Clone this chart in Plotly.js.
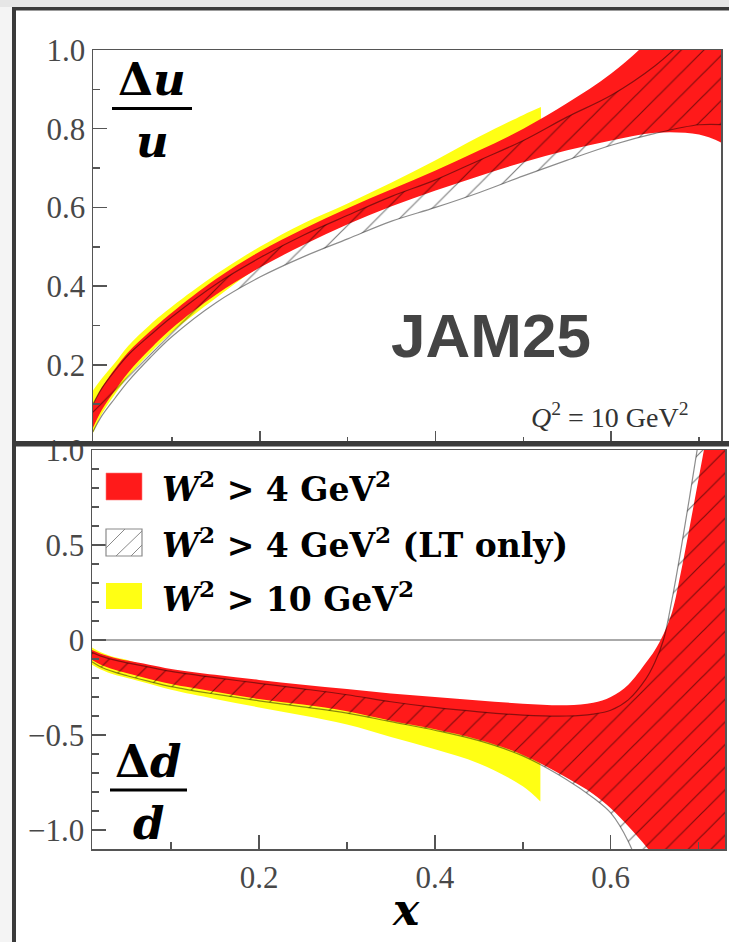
<!DOCTYPE html>
<html><head><meta charset="utf-8">
<script src="https://cdn.plot.ly/plotly-3.0.1.min.js"></script>
<style>html,body{margin:0;padding:0;background:#fff;}#chart{width:729px;height:942px;}</style>
</head><body><div id="chart"></div>
<script>
// ---------------- DATA ----------------
// Upper panel: Delta u / u
const xU = [0.01,0.02,0.035,0.05,0.075,0.1,0.15,0.2,0.25,0.3,0.35,0.4,0.45,0.5,0.55,0.6,0.65,0.7,0.73];
const uRedLo   = [0.04,0.085,0.135,0.18,0.24,0.293,0.378,0.447,0.505,0.557,0.603,0.643,0.68,0.715,0.745,0.77,0.79,0.785,0.76];
const uRedHi   = [0.10,0.142,0.19,0.232,0.285,0.333,0.418,0.488,0.546,0.598,0.646,0.694,0.745,0.80,0.865,0.94,1.04,1.17,1.27];
const uHatchLo = [0.03,0.07,0.115,0.158,0.218,0.272,0.358,0.423,0.475,0.52,0.565,0.60,0.638,0.68,0.72,0.758,0.788,0.81,0.81];
const uHatchHi = [0.10,0.14,0.185,0.225,0.275,0.322,0.405,0.472,0.53,0.58,0.628,0.67,0.72,0.77,0.83,0.885,0.96,1.06,1.12];
const xY = [0.01,0.02,0.035,0.05,0.075,0.1,0.15,0.2,0.25,0.3,0.35,0.4,0.45,0.5,0.52];
const uYelLo = [0.027,0.075,0.125,0.17,0.23,0.283,0.37,0.45,0.51,0.565,0.615,0.66,0.70,0.745,0.76];
const uYelHi = [0.135,0.165,0.205,0.248,0.302,0.348,0.43,0.50,0.56,0.61,0.663,0.72,0.78,0.835,0.855];

// Lower panel: Delta d / d
const xD = [0.01,0.02,0.035,0.05,0.075,0.1,0.15,0.2,0.25,0.3,0.35,0.4,0.45,0.5,0.55,0.58,0.6,0.62,0.64,0.65,0.66,0.67,0.68,0.69,0.70,0.71,0.73];
const dRedLo   = [-0.105,-0.13,-0.155,-0.175,-0.205,-0.232,-0.272,-0.31,-0.34,-0.375,-0.425,-0.47,-0.525,-0.605,-0.725,-0.81,-0.885,-0.98,-1.085,-1.145,-1.21,-1.28,-1.36,-1.44,-1.53,-1.62,-1.8];
const dRedHi   = [-0.053,-0.072,-0.093,-0.108,-0.13,-0.152,-0.183,-0.21,-0.235,-0.258,-0.282,-0.30,-0.318,-0.335,-0.343,-0.33,-0.30,-0.235,-0.12,-0.055,0.03,0.15,0.36,0.6,0.85,1.1,1.6];
const dHatchLo = [-0.115,-0.142,-0.168,-0.188,-0.218,-0.245,-0.285,-0.32,-0.352,-0.385,-0.43,-0.475,-0.53,-0.61,-0.735,-0.83,-0.91,-1.06,-1.3,-1.45,-1.6,-1.75,-1.9,-2.0,-2.1,-2.2,-2.4];
const dHatchHi = [-0.065,-0.085,-0.105,-0.12,-0.143,-0.165,-0.198,-0.228,-0.257,-0.288,-0.325,-0.355,-0.378,-0.395,-0.40,-0.39,-0.37,-0.315,-0.205,-0.12,0.0,0.22,0.48,0.76,1.05,1.35,1.95];
const dYelLo = [-0.13,-0.155,-0.182,-0.20,-0.23,-0.262,-0.31,-0.355,-0.398,-0.445,-0.51,-0.575,-0.65,-0.77,-0.85];
const dYelHi = [-0.04,-0.065,-0.09,-0.105,-0.14,-0.165,-0.2,-0.225,-0.255,-0.28,-0.31,-0.335,-0.36,-0.39,-0.40];

// Ticks and labels
const xMajor = [0.2,0.4,0.6];
const xMajorText = ['0.2','0.4','0.6'];
const xMinor = [0.1,0.3,0.5,0.7];
const uTickVals = [0.2,0.4,0.6,0.8,1.0];
const uTickText = ['0.2','0.4','0.6','0.8','1.0'];
const uMinor = [0.1,0.3,0.5,0.7,0.9];
const dTickVals = [-1.0,-0.5,0,0.5,1.0];
const dTickText = ['\u22121.0','\u22120.5','0','0.5','1.0'];
const dMinor = [-0.9,-0.8,-0.7,-0.6,-0.4,-0.3,-0.2,-0.1,0.1,0.2,0.3,0.4,0.6,0.7,0.8,0.9];
const legendLabels = [
  '<b><i>W</i><sup>2</sup> > 4 GeV<sup>2</sup></b>',
  '<b><i>W</i><sup>2</sup> > 4 GeV<sup>2</sup> (LT only)</b>',
  '<b><i>W</i><sup>2</sup> > 10 GeV<sup>2</sup></b>'
];

// ---------------- STYLE ----------------
const W = 729, H = 942;
const px = v => v / W;
const py = v => 1 - v / H;
const RED = 'rgb(255,26,26)';
const YEL = 'rgb(255,255,20)';

function band(xs, lo, hi, xa, ya, kind) {
  const hatch = kind === 'hatch';
  const col = kind === 'red' ? RED : (kind === 'yel' ? YEL : 'rgba(0,0,0,0.45)');
  const line = {shape: 'spline', smoothing: 1, width: hatch ? 1.2 : 0, color: col};
  const base = {xaxis: xa, yaxis: ya, type: 'scatter', mode: 'lines', hoverinfo: 'skip', showlegend: false};
  const tLo = Object.assign({}, base, {x: xs, y: lo, line: line, fill: 'none'});
  const tHi = Object.assign({}, base, {x: xs, y: hi, line: line, fill: 'tonexty'});
  if (hatch) {
    tHi.fillcolor = 'rgba(0,0,0,0)';
    tHi.fillpattern = {shape: '/', fgcolor: '#000', fgopacity: 0.5, bgcolor: 'rgba(0,0,0,0)', size: 16, solidity: 0.075};
  } else {
    tHi.fillcolor = col;
  }
  return [tLo, tHi];
}

const data = [].concat(
  band(xY, uYelLo, uYelHi, 'x', 'y', 'yel'),
  band(xU, uRedLo, uRedHi, 'x', 'y', 'red'),
  band(xU, uHatchLo, uHatchHi, 'x', 'y', 'hatch'),
  band(xY, dYelLo, dYelHi, 'x2', 'y2', 'yel'),
  band(xD, dRedLo, dRedHi, 'x2', 'y2', 'red'),
  band(xD, dHatchLo, dHatchHi, 'x2', 'y2', 'hatch')
);

const tickFont = {family: 'Liberation Serif, serif', size: 31, color: '#484848'};
const axCommon = {
  ticks: 'inside', tickwidth: 1.5, tickcolor: '#555',
  showline: true, mirror: true, linecolor: '#555', linewidth: 1.5,
  showgrid: false, zeroline: false, layer: 'above traces', tickfont: tickFont,
  fixedrange: true
};
function minor(vals) { return {tickvals: vals, ticks: 'inside', ticklen: 7, tickwidth: 1.5, tickcolor: '#555', showgrid: false}; }

const layout = {
  width: W, height: H, margin: {l: 0, r: 0, t: 0, b: 0},
  paper_bgcolor: '#fff', plot_bgcolor: '#fff', showlegend: false,
  xaxis: Object.assign({}, axCommon, {domain: [px(93), px(721)], range: [0.01, 0.725], anchor: 'y',
    tickmode: 'array', tickvals: xMajor, showticklabels: false, ticklen: 13, minor: minor(xMinor)}),
  yaxis: Object.assign({}, axCommon, {domain: [py(443.5), py(50)], range: [0, 1], anchor: 'x',
    tickmode: 'array', tickvals: uTickVals, ticktext: uTickText, ticklen: 14, minor: minor(uMinor)}),
  xaxis2: Object.assign({}, axCommon, {domain: [px(92), px(725)], range: [0.01, 0.73], anchor: 'y2',
    tickmode: 'array', tickvals: xMajor, ticktext: xMajorText, ticklen: 14, minor: minor(xMinor)}),
  yaxis2: Object.assign({}, axCommon, {domain: [py(849), py(450)], range: [-1.1, 1.0], anchor: 'x2',
    tickmode: 'array', tickvals: dTickVals, ticktext: dTickText, ticklen: 14, minor: minor(dMinor),
    zeroline: true, zerolinecolor: '#aaa', zerolinewidth: 1.2}),
  shapes: [
    // screenshot frame
    {type: 'rect', xref: 'paper', yref: 'paper', x0: 0, x1: 1, y0: py(7), y1: 1, fillcolor: '#e6e6e6', line: {width: 0}, layer: 'above'},
    {type: 'rect', xref: 'paper', yref: 'paper', x0: px(12), x1: 1, y0: py(10.5), y1: py(7), fillcolor: '#3a3a3a', line: {width: 0}, layer: 'above'},
    {type: 'rect', xref: 'paper', yref: 'paper', x0: 0, x1: px(12), y0: 0, y1: py(7), fillcolor: '#f4f4f4', line: {width: 0}, layer: 'above'},
    {type: 'rect', xref: 'paper', yref: 'paper', x0: px(12), x1: px(16), y0: 0, y1: py(7), fillcolor: '#3a3a3a', line: {width: 0}, layer: 'above'},
    {type: 'rect', xref: 'paper', yref: 'paper', x0: px(12), x1: 1, y0: py(446.5), y1: py(441), fillcolor: '#3a3a3a', line: {width: 0}, layer: 'above'},
    // fraction bars
    {type: 'line', xref: 'paper', yref: 'paper', x0: px(112), x1: px(192), y0: py(108.5), y1: py(108.5), line: {width: 3, color: '#000'}, layer: 'above'},
    {type: 'line', xref: 'paper', yref: 'paper', x0: px(110), x1: px(187), y0: py(790), y1: py(790), line: {width: 3, color: '#000'}, layer: 'above'},
    // legend swatches
    {type: 'rect', xref: 'paper', yref: 'paper', x0: px(106), x1: px(142), y0: py(500), y1: py(473), fillcolor: RED, line: {width: 0.6, color: 'rgba(255,120,120,1)'}, layer: 'above'},
    {type: 'rect', xref: 'paper', yref: 'paper', x0: px(106), x1: px(142), y0: py(556), y1: py(529), fillcolor: 'rgba(0,0,0,0)', line: {width: 1.2, color: '#8a8a8a'}, layer: 'above'},
    {type: 'line', xref: 'paper', yref: 'paper', x0: px(106), y0: py(548), x1: px(125), y1: py(529), line: {width: 1, color: '#8a8a8a'}, layer: 'above'},
    {type: 'line', xref: 'paper', yref: 'paper', x0: px(116), y0: py(556), x1: px(142), y1: py(531), line: {width: 1, color: '#8a8a8a'}, layer: 'above'},
    {type: 'line', xref: 'paper', yref: 'paper', x0: px(131), y0: py(556), x1: px(142), y1: py(545), line: {width: 1, color: '#8a8a8a'}, layer: 'above'},
    {type: 'rect', xref: 'paper', yref: 'paper', x0: px(106), x1: px(142), y0: py(609), y1: py(583), fillcolor: YEL, line: {width: 0}, layer: 'above'}
  ],
  annotations: [
    {xref: 'paper', yref: 'paper', x: px(152), y: py(108), xanchor: 'center', yanchor: 'bottom', showarrow: false,
     text: '<b>\u0394<i>u</i></b>', font: {family: 'DejaVu Serif, serif', size: 45, color: '#000'}},
    {xref: 'paper', yref: 'paper', x: px(152), y: py(113), xanchor: 'center', yanchor: 'top', showarrow: false,
     text: '<b><i>u</i></b>', font: {family: 'DejaVu Serif, serif', size: 45, color: '#000'}},
    {xref: 'paper', yref: 'paper', x: px(148), y: py(790), xanchor: 'center', yanchor: 'bottom', showarrow: false,
     text: '<b>\u0394<i>d</i></b>', font: {family: 'DejaVu Serif, serif', size: 45, color: '#000'}},
    {xref: 'paper', yref: 'paper', x: px(148), y: py(795), xanchor: 'center', yanchor: 'top', showarrow: false,
     text: '<b><i>d</i></b>', font: {family: 'DejaVu Serif, serif', size: 45, color: '#000'}},
    {xref: 'paper', yref: 'paper', x: px(491), y: py(335), xanchor: 'center', yanchor: 'middle', showarrow: false,
     text: '<b>JAM25</b>', font: {family: 'Liberation Sans, Arial, sans-serif', size: 62, color: '#444'}},
    {xref: 'paper', yref: 'paper', x: px(610), y: py(415), xanchor: 'center', yanchor: 'middle', showarrow: false,
     text: '<i>Q</i><sup>2</sup> = 10 GeV<sup>2</sup>', font: {family: 'Liberation Serif, serif', size: 28, color: '#333'}},
    {xref: 'paper', yref: 'paper', x: px(160), y: py(487), xanchor: 'left', yanchor: 'middle', showarrow: false,
     text: legendLabels[0], font: {family: 'DejaVu Serif, serif', size: 33, color: '#000'}},
    {xref: 'paper', yref: 'paper', x: px(160), y: py(543), xanchor: 'left', yanchor: 'middle', showarrow: false,
     text: legendLabels[1], font: {family: 'DejaVu Serif, serif', size: 33, color: '#000'}},
    {xref: 'paper', yref: 'paper', x: px(160), y: py(597), xanchor: 'left', yanchor: 'middle', showarrow: false,
     text: legendLabels[2], font: {family: 'DejaVu Serif, serif', size: 33, color: '#000'}},
    {xref: 'paper', yref: 'paper', x: px(406), y: py(909), xanchor: 'center', yanchor: 'middle', showarrow: false,
     text: '<b><i>x</i></b>', font: {family: 'DejaVu Serif, serif', size: 44, color: '#000'}}
  ]
};

Plotly.newPlot('chart', data, layout, {staticPlot: true, displayModeBar: false});
</script>
</body></html>
